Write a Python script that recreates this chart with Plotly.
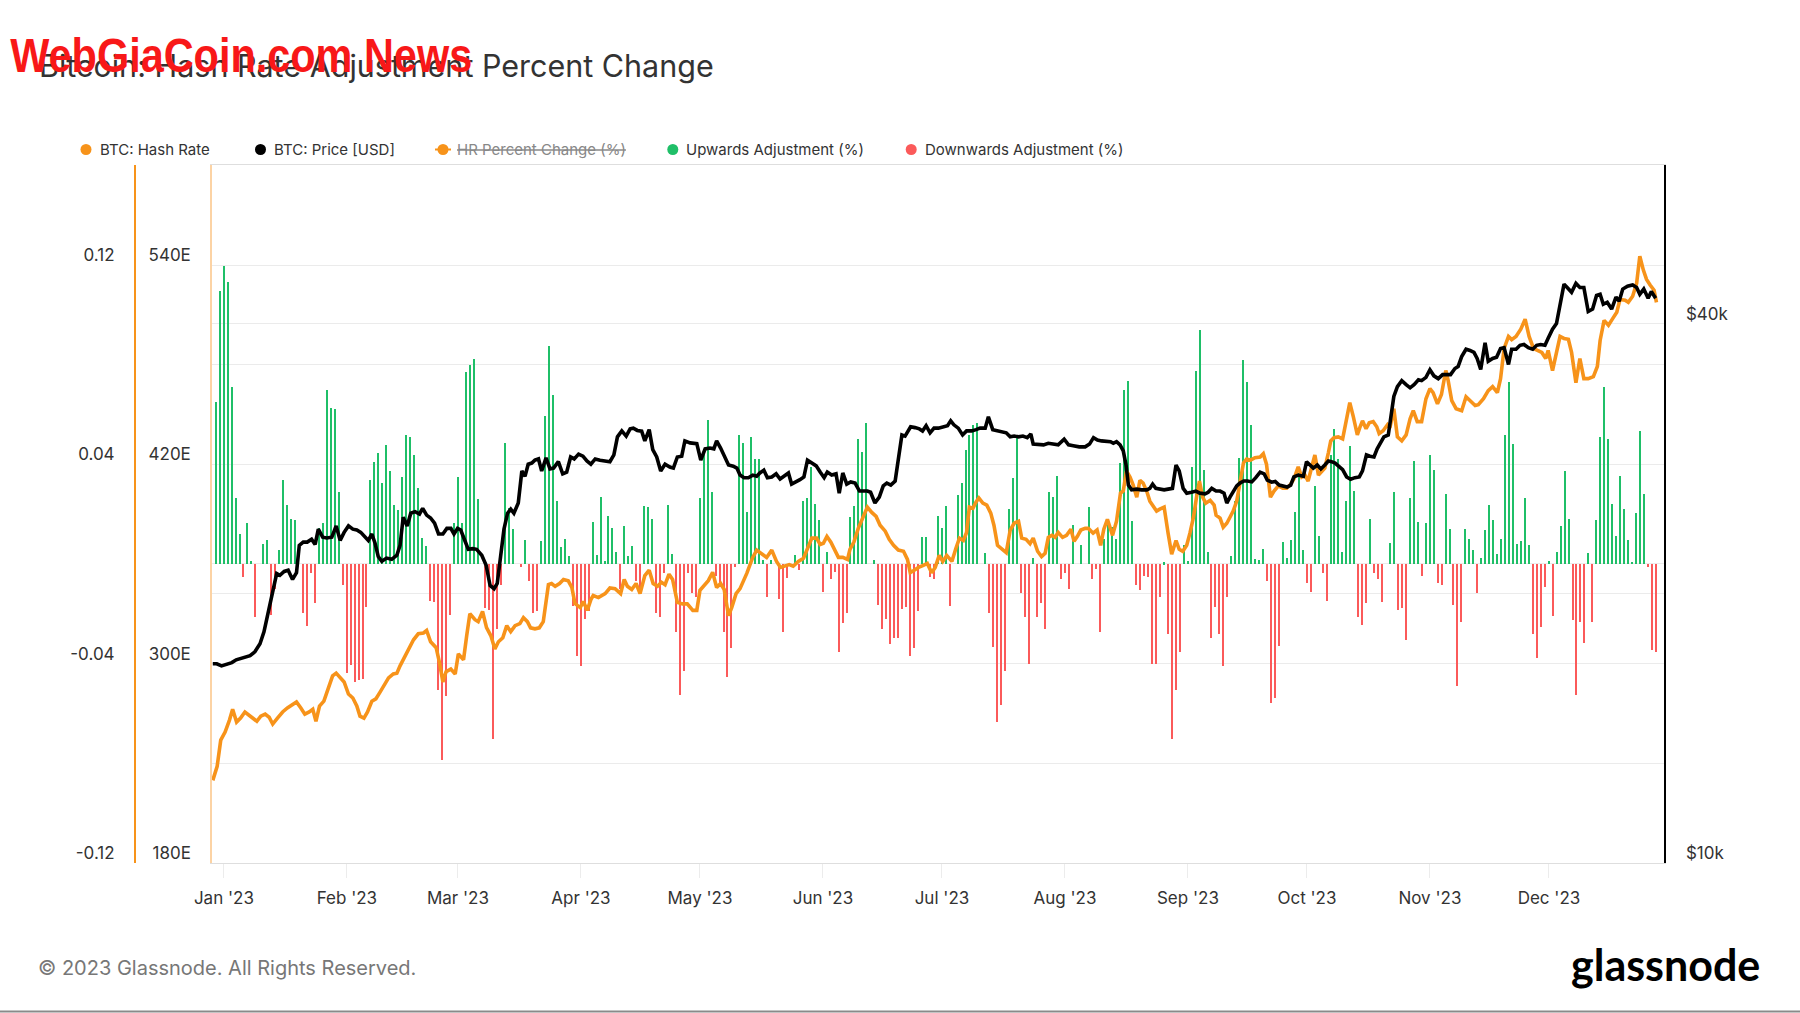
import pandas as pd
import plotly.graph_objects as go

START = pd.Timestamp("2022-12-29")

# BTC hash rate (EH/s), day offsets from START
hash_day = [
    0.2, 1.3, 2.2, 3.3, 4.4, 5.2, 6.2, 7.2, 8.3, 9.6, 11.3, 12.3, 13.4, 14.4, 15.3, 16.5, 17.8, 19.0, 20.3, 21.3,
    22.4, 23.4, 24.5, 25.4, 26.2, 27.1, 28.2, 29.3, 30.4, 31.3, 32.3, 33.3, 34.4, 35.5, 36.5, 37.3, 38.3, 39.2, 40.3, 41.3,
    42.4, 43.4, 44.5, 45.7, 46.6, 47.4, 48.4, 49.5, 50.8, 52.0, 53.3, 54.1, 55.1, 56.5, 57.3, 58.2, 59.0, 60.2, 61.3, 62.1,
    63.4, 64.2, 65.0, 66.3, 67.1, 68.2, 69.2, 70.3, 71.3, 72.2, 73.3, 74.3, 75.3, 76.4, 77.6, 78.5, 79.5, 80.3, 81.4, 82.5,
    83.5, 84.8, 85.6, 86.5, 87.6, 88.6, 89.8, 90.7, 91.5, 92.8, 93.6, 94.6, 95.5, 96.1, 97.4, 99.1, 100.3, 101.6, 103.0, 103.9,
    104.7, 105.8, 106.9, 107.9, 109.1, 110.2, 111.2, 112.3, 113.3, 114.2, 115.2, 116.1, 117.3, 118.6, 119.8, 121.2, 122.2, 123.0, 124.0, 125.1,
    126.2, 127.2, 128.2, 129.1, 130.2, 131.0, 132.1, 133.1, 134.8, 136.3, 137.3, 138.6, 139.8, 141.1, 142.3, 143.3, 144.4, 145.5, 146.5, 147.8,
    149.1, 150.1, 151.2, 152.4, 153.3, 154.1, 155.0, 156.0, 157.0, 157.9, 159.0, 160.2, 160.8, 161.8, 162.9, 164.2, 165.2, 166.3, 167.4, 168.4,
    169.7, 170.7, 171.8, 173.0, 174.3, 175.3, 176.0, 177.0, 178.1, 179.3, 180.3, 181.4, 182.3, 183.3, 184.2, 185.2, 186.5, 187.5, 188.4, 189.4,
    190.2, 190.9, 191.8, 192.6, 193.3, 194.3, 195.3, 196.3, 197.1, 198.0, 199.1, 200.2, 201.2, 202.2, 203.3, 204.1, 205.2, 206.2, 207.0, 208.1,
    209.1, 210.0, 210.8, 211.7, 212.5, 213.3, 214.4, 215.4, 216.5, 217.3, 218.1, 219.0, 220.1, 220.9, 222.1, 223.1, 224.0, 224.8, 225.7, 226.3,
    227.0, 228.0, 229.0, 229.7, 230.5, 231.4, 232.2, 233.1, 233.9, 234.7, 235.6, 236.4, 237.3, 238.1, 238.9, 240.0, 241.0, 241.9, 243.0, 243.8,
    244.7, 245.7, 246.5, 247.4, 248.2, 248.9, 249.7, 250.5, 251.6, 252.6, 253.1, 254.1, 254.9, 255.8, 256.6, 257.4, 258.3, 259.1, 260.0, 260.8,
    261.8, 262.9, 264.2, 265.0, 265.8, 266.8, 267.7, 268.8, 269.9, 270.9, 271.9, 272.7, 273.8, 274.7, 275.5, 276.3, 277.2, 278.0, 278.9, 279.7,
    280.5, 281.4, 282.0, 282.8, 283.9, 285.0, 286.0, 286.8, 287.7, 288.7, 289.4, 290.0, 290.9, 291.7, 292.7, 293.6, 294.2, 295.2, 296.3, 296.9,
    297.9, 298.8, 299.9, 301.0, 302.0, 302.8, 303.8, 304.9, 306.0, 307.0, 307.8, 308.9, 309.9, 311.0, 311.6, 312.5, 313.6, 315.0, 316.1, 317.1,
    318.4, 319.2, 320.5, 321.7, 322.8, 324.0, 324.8, 325.7, 326.8, 327.6, 328.7, 329.9, 331.0, 332.0, 333.1, 334.1, 335.2, 336.2, 336.8, 337.9,
    338.9, 339.8, 340.8, 341.9, 342.7, 343.8, 344.8, 345.8, 346.9, 348.2, 349.2, 349.9, 350.9, 352.0, 353.1, 354.1, 354.9, 356.2, 357.0, 358.1,
    359.1, 359.9, 360.8, 361.6, 362.5, 363.5, 364.1,
]
hash_rate = [
    229.6, 238.1, 253.8, 258.7, 265.9, 272.4, 264.7, 267.1, 270.8, 268.3, 265.2, 268.3, 269.5, 267.6, 263.5, 267.1, 270.8, 273.2, 274.9, 276.8,
    273.2, 269.5, 270.8, 272.4, 265.2, 274.4, 277.3, 285.3, 292.5, 294.2, 291.3, 288.9, 281.6, 279.2, 274.4, 268.3, 267.1, 270.8, 277.3, 278.7,
    282.9, 286.5, 291.3, 293.7, 294.2, 298.6, 303.4, 308.8, 314.3, 317.9, 318.4, 319.9, 313.1, 309.5, 301.0, 288.9, 295.0, 296.6, 293.7, 305.8,
    302.2, 316.7, 330.0, 326.4, 325.2, 331.3, 321.6, 316.7, 308.7, 313.1, 315.5, 322.8, 319.2, 322.8, 324.0, 327.6, 325.2, 321.5, 320.9, 321.5,
    325.2, 347.5, 348.2, 346.5, 348.2, 350.6, 349.8, 345.8, 336.1, 333.7, 337.3, 332.0, 338.5, 340.9, 339.7, 342.1, 345.5, 345.1, 342.1, 350.6,
    346.5, 344.6, 348.2, 342.1, 353.0, 356.2, 348.2, 346.5, 348.9, 347.5, 353.8, 350.6, 336.8, 335.9, 335.9, 332.0, 332.0, 344.1, 347.0, 349.9,
    355.0, 345.8, 348.2, 344.6, 328.8, 333.7, 342.1, 345.1, 354.3, 363.9, 368.3, 365.9, 363.9, 368.3, 361.5, 357.9, 358.6, 359.6, 358.6, 361.5,
    363.4, 368.8, 375.5, 375.5, 371.7, 372.4, 376.5, 373.1, 368.8, 363.9, 363.9, 362.7, 368.8, 373.1, 381.4, 388.6, 394.2, 391.0, 388.6, 383.3,
    379.7, 374.8, 371.2, 368.3, 367.6, 362.7, 354.7, 356.2, 357.9, 359.1, 360.3, 354.7, 357.9, 365.1, 361.5, 365.1, 361.5, 369.3, 375.5, 374.1,
    378.9, 394.2, 393.5, 397.3, 399.7, 396.6, 395.4, 390.6, 383.3, 371.2, 369.3, 366.8, 380.4, 384.5, 385.7, 375.5, 374.8, 372.2, 375.5, 367.6,
    364.4, 366.4, 376.0, 377.2, 376.0, 378.9, 376.0, 377.2, 380.9, 373.6, 376.5, 380.4, 381.4, 381.4, 378.5, 380.4, 371.2, 380.9, 386.9, 382.1,
    377.2, 385.7, 402.7, 403.9, 416.0, 412.3, 407.5, 400.2, 410.4, 408.7, 403.9, 397.8, 394.2, 391.8, 393.0, 394.2, 378.5, 365.9, 374.1, 368.8,
    367.6, 371.2, 378.5, 388.1, 400.7, 409.9, 400.2, 396.6, 398.3, 395.4, 389.3, 387.6, 382.1, 384.5, 388.1, 391.8, 397.8, 408.0, 420.8, 423.2,
    422.5, 424.0, 424.4, 426.4, 420.1, 400.2, 403.9, 407.0, 405.6, 405.6, 408.0, 411.1, 418.4, 412.3, 413.5, 409.9, 418.4, 425.6, 413.5, 416.0,
    417.7, 426.9, 434.1, 436.0, 436.5, 435.3, 448.6, 457.1, 448.6, 437.7, 442.6, 446.2, 441.4, 445.0, 445.7, 442.6, 438.5, 440.2, 443.8, 441.9,
    453.5, 436.5, 434.1, 437.7, 447.4, 452.3, 445.7, 445.7, 459.5, 465.6, 463.2, 456.4, 462.0, 476.5, 470.4, 458.3, 453.5, 452.3, 460.7, 458.3,
    455.4, 455.9, 459.5, 464.4, 466.8, 463.2, 471.6, 489.8, 497.0, 495.1, 497.0, 501.4, 507.4, 497.0, 489.8, 488.6, 487.4, 483.7, 488.6, 476.5,
    486.1, 497.0, 495.8, 495.3, 487.4, 469.2, 483.7, 471.6, 471.6, 472.8, 478.9, 494.6, 506.7, 503.8, 507.9, 511.6, 519.3, 518.8, 517.6, 521.2,
    529.0, 545.4, 537.0, 531.4, 528.0, 524.9, 517.6,
]

# BTC price (USD), day offsets from START
price_day = [
    0.2, 1.2, 2.4, 3.7, 5.0, 6.1, 7.1, 8.3, 9.6, 10.8, 12.1, 13.1, 14.0, 14.8, 15.6, 16.3, 17.1, 18.2, 19.2, 20.3,
    21.3, 22.0, 23.0, 24.0, 25.1, 26.0, 26.8, 27.9, 28.9, 30.2, 31.3, 32.3, 33.3, 34.4, 35.5, 36.5, 37.5, 38.6, 39.4, 40.3,
    41.1, 41.9, 42.8, 44.0, 45.3, 46.6, 47.4, 48.2, 49.2, 50.1, 51.2, 52.3, 53.1, 54.1, 55.1, 56.1, 57.1, 58.2, 59.2, 60.2,
    61.0, 61.9, 62.7, 63.8, 64.6, 65.7, 66.7, 68.0, 69.1, 70.1, 71.1, 71.9, 72.8, 73.6, 74.5, 75.3, 76.1, 77.2, 78.1, 78.9,
    79.7, 80.6, 81.4, 82.3, 83.1, 84.2, 85.2, 86.1, 87.3, 88.4, 89.4, 90.4, 91.3, 92.4, 93.5, 94.5, 95.5, 96.6, 97.8, 99.1,
    100.3, 101.3, 102.2, 103.3, 104.4, 105.4, 106.2, 107.2, 108.3, 109.1, 110.2, 111.1, 112.1, 113.1, 114.2, 115.4, 116.3, 117.3, 118.4, 119.2,
    120.5, 122.2, 123.2, 124.3, 125.5, 126.5, 127.2, 128.2, 129.3, 130.2, 131.4, 132.3, 133.1, 134.1, 135.2, 136.3, 137.3, 138.1, 139.1, 140.0,
    141.1, 142.2, 143.2, 144.0, 145.3, 146.1, 147.2, 148.2, 149.2, 150.1, 151.2, 152.3, 153.3, 154.3, 155.1, 156.2, 157.3, 158.1, 159.0, 160.0,
    161.0, 162.1, 163.2, 164.2, 165.2, 166.0, 167.1, 168.2, 169.2, 170.1, 171.1, 172.2, 173.0, 173.9, 174.7, 176.1, 177.2, 178.3, 179.1, 180.0,
    181.0, 182.0, 183.1, 184.4, 185.4, 186.2, 187.0, 188.1, 189.2, 190.2, 191.5, 192.6, 193.6, 194.9, 195.7, 196.8, 197.8, 199.1, 200.2, 201.2,
    202.2, 203.3, 204.4, 205.5, 206.4, 207.0, 208.3, 209.6, 210.8, 212.1, 213.3, 214.8, 215.9, 217.1, 218.6, 220.1, 221.2, 222.2, 223.2, 224.2,
    225.3, 226.5, 227.2, 228.0, 228.9, 229.7, 230.4, 231.0, 231.8, 233.1, 234.3, 235.6, 236.4, 237.1, 237.9, 238.9, 240.0, 241.0, 242.1, 243.0,
    243.8, 244.8, 245.7, 246.9, 248.0, 249.0, 250.3, 251.1, 252.0, 253.1, 254.1, 255.1, 255.8, 256.6, 257.4, 258.3, 259.1, 260.1, 261.0, 262.1,
    263.1, 264.2, 265.2, 266.0, 267.1, 268.0, 269.0, 270.0, 271.0, 271.9, 272.7, 273.8, 275.1, 275.9, 276.8, 277.6, 278.6, 279.5, 280.5, 281.4,
    282.2, 283.1, 283.9, 285.0, 286.0, 287.0, 288.1, 289.2, 290.0, 291.0, 291.9, 292.9, 293.7, 294.6, 295.4, 296.5, 297.9, 298.8, 299.9, 301.0,
    302.0, 303.0, 304.1, 304.9, 306.0, 307.0, 308.0, 309.1, 310.2, 311.2, 312.2, 313.3, 314.1, 315.0, 316.1, 317.1, 318.1, 318.9, 319.8, 320.9,
    321.7, 322.8, 323.8, 324.8, 325.7, 326.8, 327.6, 328.7, 329.7, 330.7, 331.8, 332.9, 333.9, 334.9, 336.0, 336.8, 337.9, 338.9, 339.9, 340.8,
    341.6, 342.7, 343.8, 344.8, 345.8, 346.9, 348.0, 349.0, 349.9, 350.7, 351.7, 352.8, 353.9, 354.7, 355.6, 356.8, 358.1, 359.1, 359.9, 360.9,
    362.0, 362.8, 363.9,
]
price_usd = [
    16680, 16680, 16590, 16680, 16730, 16850, 16900, 16970, 17030, 17200, 17560, 18110, 18880, 19680, 20400, 21040, 20940, 21150, 21220, 20720,
    21090, 22620, 22810, 22810, 22980, 22670, 23580, 23100, 23050, 23100, 23780, 22910, 23390, 23780, 23580, 23530, 23390, 23100, 22910, 23290,
    22740, 21980, 21710, 21890, 21820, 22050, 22620, 24320, 23780, 24570, 24670, 24520, 24880, 24450, 24270, 23950, 23290, 23290, 23630, 23630,
    23290, 23630, 23530, 22860, 22390, 22430, 22390, 22050, 21490, 20400, 20230, 20510, 21930, 23580, 24570, 24830, 24570, 25220, 27390, 27020,
    27870, 27950, 28160, 28250, 27390, 28330, 27530, 27590, 28050, 27190, 27310, 28390, 28250, 28600, 28450, 28100, 27870, 28250, 28160, 28100,
    28050, 28540, 29900, 30360, 29960, 30520, 30580, 30400, 30340, 29590, 30460, 28930, 28390, 27390, 27870, 27670, 27590, 28390, 28450, 29590,
    29440, 29380, 28160, 28990, 29050, 28990, 29590, 29050, 28390, 27810, 27730, 27590, 27100, 26920, 26920, 27100, 27020, 27250, 27440, 26920,
    26970, 27190, 26830, 26970, 27250, 26480, 26610, 26780, 26970, 28160, 27950, 27750, 27310, 26920, 27310, 27100, 27190, 25870, 27250, 26480,
    26630, 26550, 26010, 26010, 26010, 25930, 25220, 25610, 26360, 26550, 26410, 26690, 28250, 30050, 29960, 30680, 30620, 30520, 30360, 30770,
    30210, 30580, 30580, 30680, 30770, 31160, 30840, 30580, 30050, 30360, 30360, 30460, 30580, 30580, 31480, 30460, 30400, 30340, 30210, 29900,
    29960, 29900, 29960, 29840, 30120, 29350, 29350, 29290, 29410, 29350, 29290, 29720, 29290, 29230, 29140, 29140, 29350, 29840, 29660, 29590,
    29530, 29530, 29410, 29530, 29290, 28840, 27810, 26410, 26090, 26140, 26090, 26090, 26190, 26480, 26190, 26140, 26090, 26140, 26190, 27810,
    27390, 26190, 25870, 25930, 26010, 25870, 25820, 25930, 26190, 26010, 26010, 25870, 25220, 25610, 26010, 26360, 26550, 26690, 26690, 26630,
    26920, 27310, 27190, 26750, 26610, 26660, 26410, 26360, 26280, 26410, 26970, 27100, 27020, 28050, 27810, 27590, 27810, 27530, 27810, 28100,
    28050, 27950, 27750, 27480, 26970, 26810, 26920, 26970, 27390, 28540, 28450, 28390, 28990, 29530, 29900, 30050, 33170, 34020, 34550, 34200,
    33920, 34200, 34620, 34550, 34840, 35530, 34980, 34730, 35090, 35090, 35090, 35650, 35830, 36760, 37460, 37340, 37150, 36580, 35570, 38080,
    36310, 36580, 36690, 37530, 37610, 36020, 37460, 37460, 37840, 37920, 37610, 37460, 37840, 37920, 37840, 38520, 39440, 40020, 42140, 44280,
    43910, 43370, 44370, 43910, 43910, 41280, 41540, 43010, 43150, 42050, 42270, 41540, 42840, 42390, 43730, 44060, 44190, 43910, 43150, 43730,
    42710, 43460, 42710,
]

# Daily hash rate adjustment (fraction), upward days
up_day = [
    1, 2, 3, 4, 5, 6, 7, 9, 10, 13, 14, 17, 18, 19, 20, 21, 27, 28, 29, 30, 31, 32, 40, 41, 42, 43, 44, 45, 46, 47,
    48, 49, 50, 51, 52, 53, 54, 61, 62, 63, 64, 65, 66, 67, 74, 75, 76, 79, 83, 84, 85, 86, 87, 88, 89, 90, 96, 97, 98, 99,
    100, 101, 102, 104, 105, 106, 109, 110, 111, 115, 116, 123, 124, 125, 126, 133, 134, 135, 136, 137, 138, 139, 141, 147, 149, 150,
    151, 152, 153, 155, 161, 162, 163, 164, 165, 167, 179, 180, 183, 184, 185, 188, 189, 190, 191, 192, 193, 195, 201, 202, 203, 207,
    211, 212, 213, 217, 219, 221, 225, 226, 227, 228, 229, 230, 231, 232, 240, 245, 246, 247, 248, 249, 250, 251, 257, 258, 259, 260,
    261, 262, 263, 264, 265, 270, 271, 272, 273, 274, 275, 278, 279, 282, 283, 284, 285, 286, 287, 288, 292, 297, 298, 302, 303, 304,
    306, 307, 308, 311, 312, 316, 317, 318, 320, 321, 322, 323, 324, 325, 326, 327, 328, 329, 330, 331, 332, 337, 339, 340, 341, 342,
    347, 349, 350, 351, 352, 353, 354, 355, 356, 357, 358, 359, 360, 361,
]
up_pct = [
    0.0653, 0.1097, 0.1199, 0.1134, 0.0712, 0.0266, 0.0123, 0.0165, 0.0013, 0.0081, 0.0098, 0.0056, 0.0339, 0.0237, 0.0184, 0.0177, 0.0147, 0.0165, 0.0700, 0.0629,
    0.0623, 0.0290, 0.0339, 0.0411, 0.0449, 0.0328, 0.0478, 0.0376, 0.0239, 0.0219, 0.0352, 0.0520, 0.0513, 0.0440, 0.0308, 0.0106, 0.0074, 0.0166, 0.0352, 0.0165,
    0.0771, 0.0800, 0.0823, 0.0261, 0.0489, 0.0226, 0.0142, 0.0098, 0.0092, 0.0594, 0.0876, 0.0682, 0.0253, 0.0068, 0.0103, 0.0034, 0.0171, 0.0039, 0.0271, 0.0013,
    0.0194, 0.0148, 0.0048, 0.0153, 0.0032, 0.0073, 0.0236, 0.0231, 0.0184, 0.0237, 0.0042, 0.0266, 0.0465, 0.0581, 0.0290, 0.0520, 0.0489, 0.0211, 0.0513, 0.0423,
    0.0423, 0.0019, 0.0019, 0.0037, 0.0255, 0.0266, 0.0392, 0.0242, 0.0177, 0.0048, 0.0190, 0.0236, 0.0503, 0.0452, 0.0568, 0.0019, 0.0110, 0.0110, 0.0194, 0.0145,
    0.0236, 0.0279, 0.0326, 0.0458, 0.0520, 0.0558, 0.0568, 0.0045, 0.0223, 0.0345, 0.0520, 0.0026, 0.0290, 0.0271, 0.0357, 0.0158, 0.0077, 0.0231, 0.0102, 0.0174,
    0.0150, 0.0102, 0.0408, 0.0702, 0.0736, 0.0174, 0.0008, 0.0077, 0.0013, 0.0392, 0.0778, 0.0941, 0.0381, 0.0048, 0.0032, 0.0255, 0.0428, 0.0820, 0.0731, 0.0561,
    0.0021, 0.0019, 0.0061, 0.0090, 0.0026, 0.0097, 0.0211, 0.0368, 0.0056, 0.0315, 0.0115, 0.0440, 0.0545, 0.0424, 0.0050, 0.0255, 0.0476, 0.0295, 0.0182, 0.0086,
    0.0290, 0.0268, 0.0416, 0.0169, 0.0165, 0.0440, 0.0381, 0.0284, 0.0142, 0.0142, 0.0103, 0.0056, 0.0026, 0.0139, 0.0237, 0.0177, 0.0040, 0.0103, 0.0520, 0.0731,
    0.0484, 0.0081, 0.0094, 0.0266, 0.0077, 0.0013, 0.0048, 0.0153, 0.0376, 0.0184, 0.0045, 0.0177, 0.0513, 0.0712, 0.0502, 0.0244, 0.0116, 0.0357, 0.0223, 0.0100,
    0.0010, 0.0207, 0.0537, 0.0284,
]

# Daily hash rate adjustment (fraction), downward days
down_day = [
    8, 11, 15, 16, 23, 24, 25, 26, 33, 34, 35, 36, 37, 38, 39, 55, 56, 57, 58, 59, 60, 69, 70, 71, 72, 73, 78, 80, 81, 82,
    91, 92, 93, 94, 95, 103, 107, 108, 112, 113, 114, 117, 118, 119, 120, 121, 122, 127, 128, 129, 130, 131, 132, 140, 143, 144, 145, 148, 154, 156,
    157, 158, 159, 160, 168, 169, 170, 171, 172, 173, 174, 175, 176, 177, 178, 181, 182, 186, 196, 197, 198, 199, 200, 204, 205, 206, 208, 209, 210, 214,
    215, 216, 222, 223, 224, 233, 234, 235, 236, 237, 238, 239, 241, 242, 243, 244, 252, 253, 254, 255, 256, 266, 267, 268, 269, 276, 277, 280, 281, 289,
    290, 291, 293, 294, 295, 299, 300, 301, 305, 309, 310, 313, 314, 315, 319, 333, 334, 335, 336, 338, 343, 344, 345, 346, 348, 362, 363, 364,
]
down_pct = [
    -0.0052, -0.0213, -0.0205, -0.0100, -0.0194, -0.0248, -0.0035, -0.0156, -0.0084, -0.0435, -0.0403, -0.0471, -0.0463, -0.0460, -0.0173, -0.0145, -0.0152, -0.0506, -0.0786, -0.0528,
    -0.0205, -0.0177, -0.0184, -0.0702, -0.0261, -0.0084, -0.0011, -0.0065, -0.0197, -0.0189, -0.0168, -0.0369, -0.0410, -0.0221, -0.0189, -0.0100, -0.0068, -0.0116, -0.0194, -0.0213,
    -0.0035, -0.0273, -0.0524, -0.0427, -0.0035, -0.0113, -0.0132, -0.0048, -0.0092, -0.0270, -0.0452, -0.0337, -0.0011, -0.0132, -0.0140, -0.0270, -0.0056, -0.0023, -0.0110, -0.0060,
    -0.0032, -0.0350, -0.0237, -0.0194, -0.0165, -0.0258, -0.0221, -0.0318, -0.0294, -0.0294, -0.0181, -0.0173, -0.0369, -0.0337, -0.0189, -0.0052, -0.0060, -0.0168, -0.0194, -0.0330,
    -0.0632, -0.0563, -0.0427, -0.0116, -0.0213, -0.0399, -0.0213, -0.0156, -0.0261, -0.0060, -0.0035, -0.0097, -0.0060, -0.0019, -0.0270, -0.0081, -0.0103, -0.0048, -0.0052, -0.0399,
    -0.0399, -0.0132, -0.0278, -0.0702, -0.0506, -0.0350, -0.0297, -0.0170, -0.0278, -0.0410, -0.0132, -0.0068, -0.0555, -0.0535, -0.0326, -0.0076, -0.0110, -0.0035, -0.0145, -0.0213,
    -0.0242, -0.0156, -0.0035, -0.0060, -0.0152, -0.0184, -0.0176, -0.0303, -0.0048, -0.0073, -0.0081, -0.0165, -0.0490, -0.0231, -0.0116, -0.0278, -0.0374, -0.0250, -0.0092, -0.0208,
    -0.0223, -0.0524, -0.0231, -0.0315, -0.0231, -0.0011, -0.0345, -0.0350,
]

pct_ticks = [-0.12, -0.04, 0.04, 0.12]
hash_ticks = [180, 240, 300, 360, 420, 480, 540]
hash_labels = ["180E", "", "300E", "", "420E", "", "540E"]
price_ticks = [10000, 20000, 40000]
price_labels = ["$10k", "", "$40k"]
month_ticks = pd.date_range("2023-01-01", "2023-12-01", freq="MS")

ORANGE = "#f7931a"
GREEN = "#1fbf68"
RED = "#fb5a5a"
TEXT = "#333333"
GRID = "#ebebeb"
FONT = "Inter, Roboto, sans-serif"

W, H = 1800, 1013


def px(x):
    return x / W


def py(y):
    return 1 - y / H


def to_dates(days):
    return START + pd.to_timedelta(days, unit="D")


bar_width = 0.38 * 86400000

fig = go.Figure()

fig.add_trace(go.Bar(
    x=to_dates(up_day), y=up_pct, name="Upwards Adjustment (%)",
    marker=dict(color=GREEN, line=dict(width=0)), width=bar_width, yaxis="y"
))
fig.add_trace(go.Bar(
    x=to_dates(down_day), y=down_pct, name="Downwards Adjustment (%)",
    marker=dict(color=RED, line=dict(width=0)), width=bar_width, yaxis="y"
))
fig.add_trace(go.Scatter(
    x=to_dates(hash_day), y=hash_rate, name="BTC: Hash Rate", mode="lines",
    line=dict(color=ORANGE, width=3.6), yaxis="y2"
))
fig.add_trace(go.Scatter(
    x=to_dates(price_day), y=price_usd, name="BTC: Price [USD]", mode="lines",
    line=dict(color="#000000", width=3.6), yaxis="y3"
))

y_domain = [py(862.7), py(164.5)]
tick_font = dict(family=FONT, size=17, color=TEXT)

fig.update_layout(
    width=W, height=H, autosize=False,
    margin=dict(l=0, r=0, t=0, b=0, autoexpand=False),
    paper_bgcolor="white", plot_bgcolor="white",
    showlegend=False, barmode="overlay", bargap=0,
    font=dict(family=FONT, color=TEXT),
    xaxis=dict(
        domain=[px(212), px(1663.5)], type="date", anchor="y", automargin=False,
        range=["2022-12-29", "2023-12-29 21:00"],
        tickvals=list(month_ticks), tickformat="%b '%y",
        ticks="outside", ticklen=14, tickcolor="#ececec", tickwidth=1,
        ticklabelstandoff=6, tickfont=tick_font,
        showline=True, linecolor="#dedede", linewidth=1, mirror=True,
        showgrid=False, zeroline=False,
    ),
    yaxis=dict(
        domain=y_domain, range=[-0.12, 0.1604], anchor="free", position=px(135), side="left",
        automargin=False,
        tickvals=pct_ticks, ticktext=["-0.12", "-0.04", "0.04", "0.12"],
        ticks="", ticklabelposition="outside top", ticklabelstandoff=16, ticklabelshift=2,
        tickfont=tick_font,
        showline=True, linecolor=ORANGE, linewidth=2,
        showgrid=False, zeroline=False,
    ),
    yaxis2=dict(
        overlaying="y", anchor="x", side="left", range=[180, 600.6], automargin=False,
        tickvals=hash_ticks, ticktext=hash_labels,
        ticks="", ticklabelposition="outside top", ticklabelstandoff=16, ticklabelshift=2,
        tickfont=tick_font,
        showline=True, linecolor="#fcd3a4", linewidth=1.5,
        showgrid=True, gridcolor=GRID, gridwidth=1, zeroline=False,
    ),
    yaxis3=dict(
        overlaying="y", anchor="x", side="right", type="log", range=[4, 4.7799], automargin=False,
        tickvals=price_ticks, ticktext=price_labels,
        ticks="", ticklabelposition="outside top", ticklabelstandoff=17, ticklabelshift=2,
        tickfont=tick_font,
        showline=True, linecolor="#000000", linewidth=2,
        showgrid=True, gridcolor=GRID, gridwidth=1, zeroline=False,
    ),
)


def note(text, x, y, anchor, font):
    return dict(text=text, x=px(x), y=py(y), xref="paper", yref="paper",
                xanchor=anchor, yanchor="middle", showarrow=False, font=font)


# title, watermark, footer
annotations = [
    note("Bitcoin: Hash Rate Adjustment Percent Change", 37, 65, "left",
         dict(family=FONT, size=30.5, color=TEXT)),
    note("WebGiaCoin.com News", 241, 55, "center",
         dict(family="Liberation Sans, Arial, sans-serif", size=49, color="#f81818", weight="bold")),
    note("© 2023 Glassnode. All Rights Reserved.", 36, 968, "left",
         dict(family=FONT, size=20, color="#777777")),
    note("glassnode", 1762, 964, "right",
         dict(family="Lato, Inter, sans-serif", size=43, color="#000000", weight="bold")),
]

# hand-placed legend row
legend_items = [
    ("BTC: Hash Rate", ORANGE, 86, TEXT, False),
    ("BTC: Price [USD]", "#000000", 260.5, TEXT, False),
    ("HR Percent Change (%)", ORANGE, 443, "#888888", True),
    ("Upwards Adjustment (%)", GREEN, 672.8, TEXT, False),
    ("Downwards Adjustment (%)", RED, 911.2, TEXT, False),
]
shapes = []
for label, color, cx, tcolor, hidden in legend_items:
    r = 5.5
    shapes.append(dict(type="circle", xref="paper", yref="paper",
                       x0=px(cx - r), x1=px(cx + r), y0=py(149.5 + r), y1=py(149.5 - r),
                       fillcolor=color, line=dict(width=0)))
    if hidden:
        shapes.append(dict(type="line", xref="paper", yref="paper",
                           x0=px(cx - 8), x1=px(cx + 8), y0=py(149.5), y1=py(149.5),
                           line=dict(color=color, width=2)))
    text = f"<s>{label}</s>" if hidden else label
    annotations.append(note(text, cx + 11.5, 149.5, "left",
                            dict(family=FONT, size=15, color=tcolor)))

shapes.append(dict(type="line", xref="paper", yref="paper", x0=0, x1=1,
                   y0=py(1011.5), y1=py(1011.5), line=dict(color="#8a8a8a", width=2)))

fig.update_layout(annotations=annotations, shapes=shapes)

# page tweaks: no body margin, and squeeze the condensed watermark to its width
post = """
document.body.style.margin = '0';
var gd = document.getElementById('{plot_id}');
gd.querySelectorAll('text.annotation-text').forEach(function (t) {
    if (t.textContent.indexOf('WebGiaCoin') === 0) {
        t.setAttribute('textLength', '462');
        t.setAttribute('lengthAdjust', 'spacingAndGlyphs');
    }
});
"""

fig.write_html("out.html", config={"displayModeBar": False}, post_script=post)
